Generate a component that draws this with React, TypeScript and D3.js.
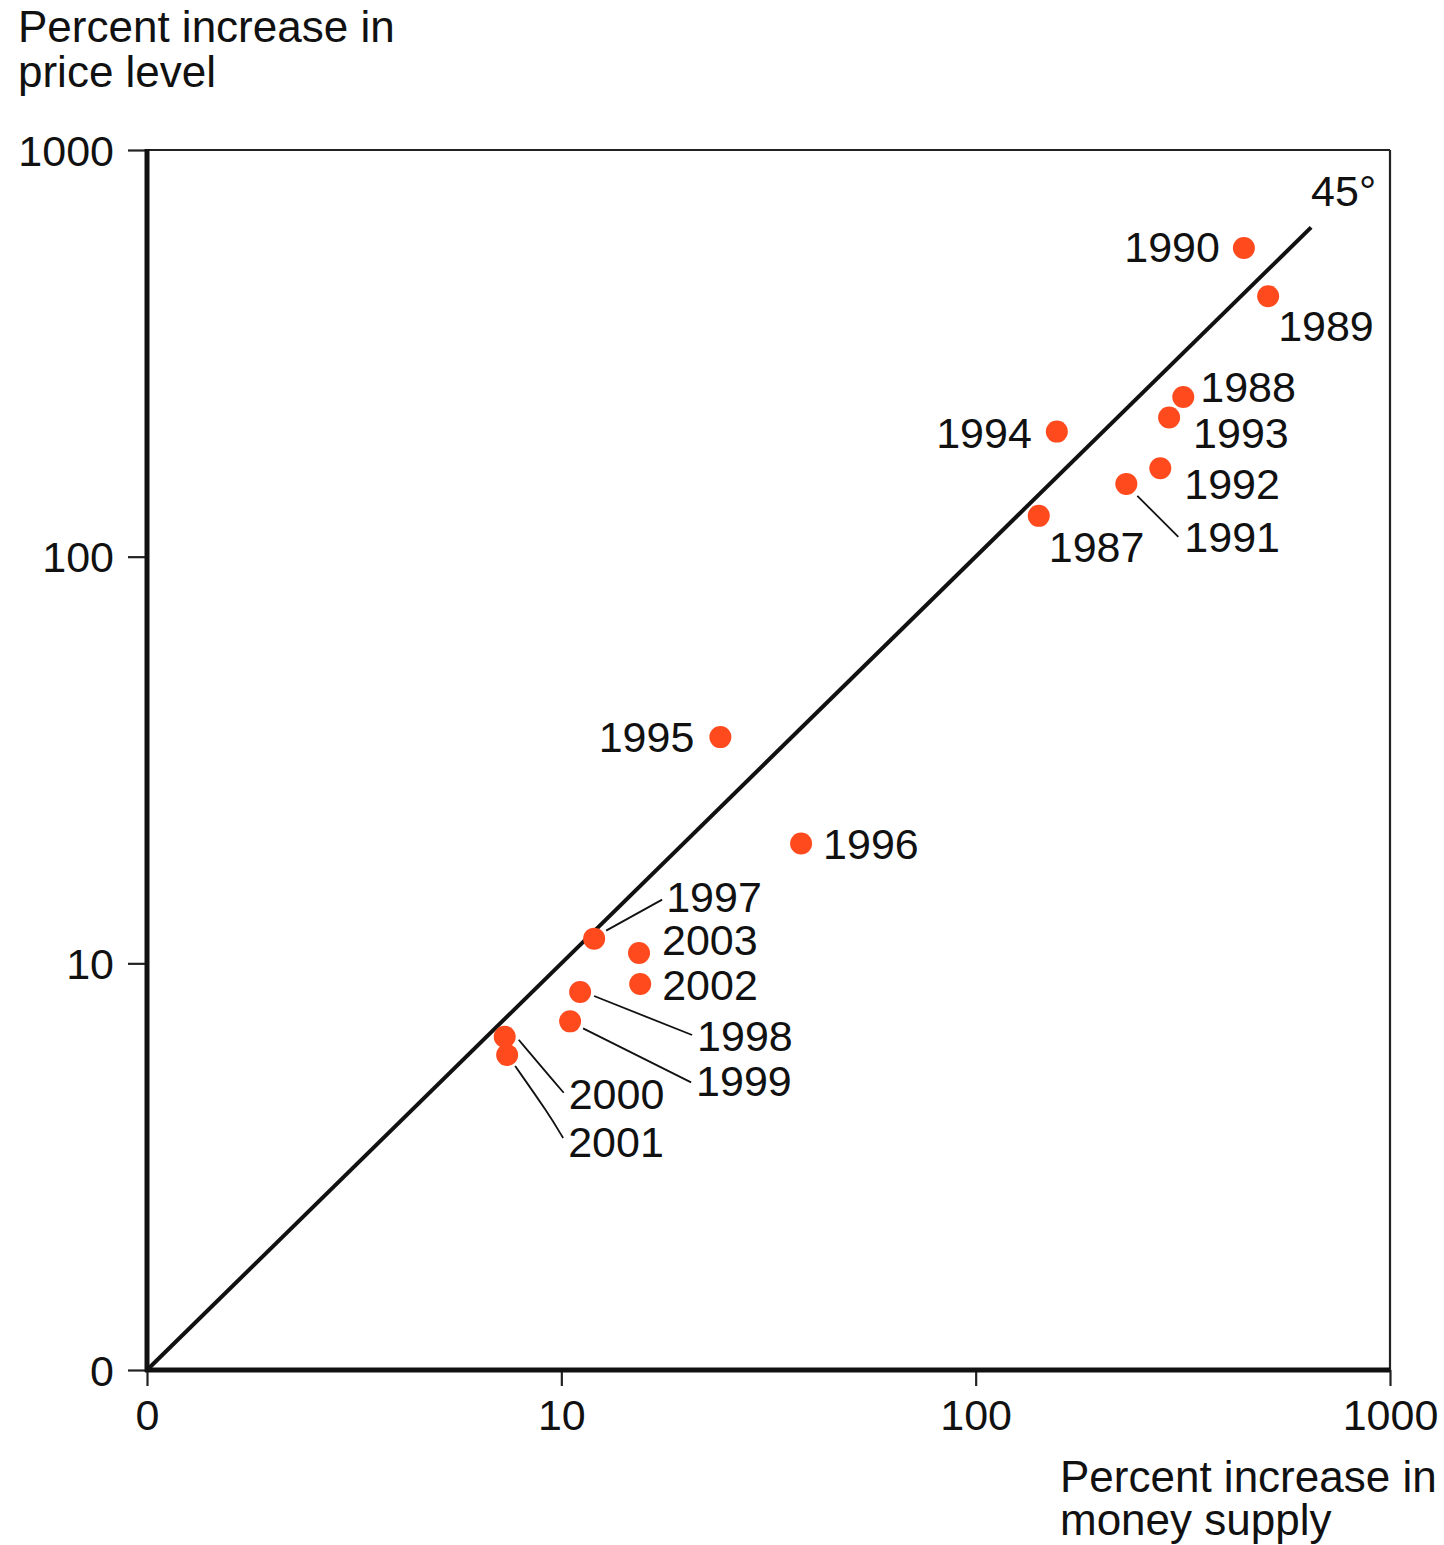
import React, { useEffect, useRef } from "react";
import * as d3 from "d3";

const years = ["1987","1988","1989","1990","1991","1992","1993","1994","1995","1996","1997","1998","1999","2000","2001","2002","2003"];
const moneyGrowth = [142, 317, 508, 444, 231, 279, 293, 157, 24.2, 37.9, 12.0, 11.1, 10.5, 7.3, 7.4, 15.5, 15.4];
const priceGrowth = [126, 247, 437, 574, 151, 165, 220, 203, 36.0, 19.7, 11.5, 8.5, 7.2, 6.6, 5.95, 8.9, 10.6];
const tickValues = [1, 10, 100, 1000];
const tickLabels = ["0", "10", "100", "1000"];
const lineEnd = 645;
const yTitle = ["Percent increase in", "price level"];
const xTitle = ["Percent increase in", "money supply"];

// label placement relative to each point (layout only)
type Lab = { dx: number; dy: number; anchor: string; leader?: [number, number][] };
const labelLayout: Record<string, Lab> = {
  "1987": { dx: 10, dy: 46, anchor: "start" },
  "1988": { dx: 17, dy: 5, anchor: "start" },
  "1989": { dx: 10, dy: 45, anchor: "start" },
  "1990": { dx: -24, dy: 14, anchor: "end" },
  "1991": { dx: 58, dy: 68, anchor: "start", leader: [[11, 12], [52, 53]] },
  "1992": { dx: 24, dy: 31, anchor: "start" },
  "1993": { dx: 24, dy: 31, anchor: "start" },
  "1994": { dx: -25, dy: 16, anchor: "end" },
  "1995": { dx: -26, dy: 15, anchor: "end" },
  "1996": { dx: 22, dy: 15, anchor: "start" },
  "1997": { dx: 72, dy: -27, anchor: "start", leader: [[12, -8], [68, -39]] },
  "1998": { dx: 117, dy: 59, anchor: "start", leader: [[14, 4], [112, 43]] },
  "1999": { dx: 126, dy: 75, anchor: "start", leader: [[13, 7], [121, 61]] },
  "2000": { dx: 64, dy: 72, anchor: "start", leader: [[14, 3], [46, 41], [59, 56]] },
  "2001": { dx: 61, dy: 102, anchor: "start", leader: [[8, 11], [41, 58], [56, 83]] },
  "2002": { dx: 22, dy: 16, anchor: "start" },
  "2003": { dx: 23, dy: 2, anchor: "start" },
};

const W = 1444, H = 1545;
const FONT = "'Liberation Sans', Arial, Helvetica, sans-serif";
const FS = 43;
const DOT = "#ff4a1e";

export default function App() {
  const xAxisRef = useRef<SVGGElement>(null);
  const yAxisRef = useRef<SVGGElement>(null);

  const x = d3.scaleLog().domain([1, 1000]).range([147, 1390]);
  const y = d3.scaleLog().domain([1, 1000]).range([1370, 150]);
  const fmt = (d: d3.NumberValue) => tickLabels[tickValues.indexOf(+d)];

  useEffect(() => {
    const xa = d3.axisBottom(x).tickValues(tickValues).tickFormat(fmt).tickSize(16).tickSizeOuter(0).tickPadding(13);
    const ya = d3.axisLeft(y).tickValues(tickValues).tickFormat(fmt).tickSize(19).tickSizeOuter(0).tickPadding(14);
    const gx = d3.select(xAxisRef.current!).call(xa as any);
    const gy = d3.select(yAxisRef.current!).call(ya as any);
    [gx, gy].forEach((g) => {
      g.select(".domain").remove();
      g.attr("font-family", FONT).attr("font-size", FS);
      g.selectAll(".tick line").attr("stroke", "#222").attr("stroke-width", 2.2);
      g.selectAll(".tick text").attr("fill", "#111");
    });
    gy.selectAll(".tick text").attr("dy", "0.35em");
  }, []);

  const line = d3.line<number>().x((v) => x(v)).y((v) => y(v));

  return (
    <div style={{ position: "absolute", left: 0, top: 0, width: W, height: H, background: "#fff" }}>
      <svg width={W} height={H} style={{ display: "block" }} fontFamily={FONT}>
        <rect width={W} height={H} fill="#fff" />
        <text x={18} y={42} fontSize={44} fill="#111">
          <tspan x={18}>{yTitle[0]}</tspan>
          <tspan x={18} dy={45}>{yTitle[1]}</tspan>
        </text>
        <text x={1060} y={1492} fontSize={44} fill="#111">
          <tspan x={1060}>{xTitle[0]}</tspan>
          <tspan x={1060} dy={43}>{xTitle[1]}</tspan>
        </text>

        {/* frame */}
        <line x1={x(1)} x2={x(1000)} y1={y(1000)} y2={y(1000)} stroke="#222" strokeWidth={2.2} />
        <line x1={x(1000)} x2={x(1000)} y1={y(1000)} y2={y(1)} stroke="#222" strokeWidth={2.2} />
        <g ref={xAxisRef} transform={`translate(0,${y(1)})`} />
        <g ref={yAxisRef} transform={`translate(${x(1)},0)`} />
        <line x1={x(1)} x2={x(1)} y1={y(1000) - 1} y2={y(1) + 2} stroke="#111" strokeWidth={5} />
        <line x1={x(1) - 2} x2={x(1000)} y1={y(1)} y2={y(1)} stroke="#111" strokeWidth={5} />

        {/* 45 degree line */}
        <path d={line([1, lineEnd]) || ""} stroke="#111" strokeWidth={4} fill="none" />
        <text x={x(lineEnd)} y={206} fontSize={FS} fill="#111">45°</text>

        {/* leaders */}
        {years.map((yr, i) => {
          const L = labelLayout[yr];
          if (!L.leader) return null;
          const px = x(moneyGrowth[i]), py = y(priceGrowth[i]);
          const pts = L.leader.map(([a, b]) => [px + a, py + b] as [number, number]);
          const d = d3.line().curve(d3.curveBasis)(pts) || "";
          return <path key={"l" + yr} d={d} stroke="#111" strokeWidth={1.8} fill="none" />;
        })}

        {/* dots */}
        {years.map((yr, i) => (
          <circle key={"c" + yr} cx={x(moneyGrowth[i])} cy={y(priceGrowth[i])} r={11} fill={DOT} />
        ))}

        {/* labels */}
        {years.map((yr, i) => {
          const L = labelLayout[yr];
          return (
            <text key={"t" + yr} x={x(moneyGrowth[i]) + L.dx} y={y(priceGrowth[i]) + L.dy}
              fontSize={FS} textAnchor={L.anchor} fill="#111">{yr}</text>
          );
        })}
      </svg>
    </div>
  );
}
